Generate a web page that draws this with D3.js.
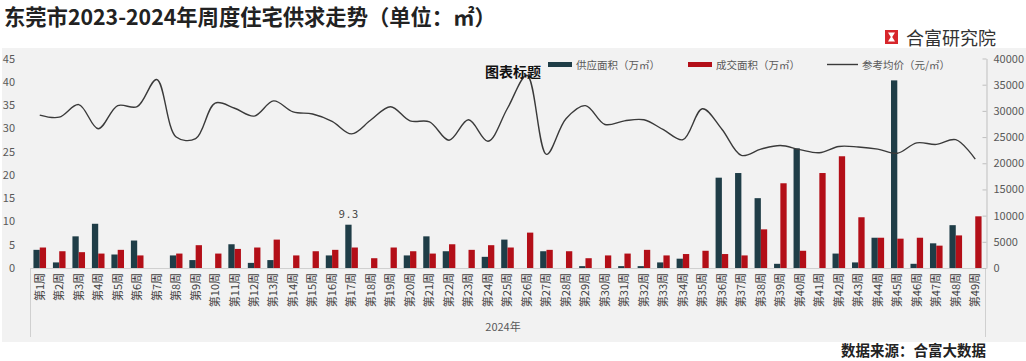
<!DOCTYPE html>
<html><head><meta charset="utf-8">
<script src="https://cdn.jsdelivr.net/npm/d3@7/dist/d3.min.js"></script>
<style>
body{margin:0;background:#fff;}
svg{display:block;}
text{font-family:"Noto Sans CJK SC","Noto Sans",sans-serif;}
</style>
</head><body>
<svg id="c" width="1026" height="361"></svg>
<script>
const categories=["第1周","第2周","第3周","第4周","第5周","第6周","第7周","第8周","第9周","第10周",
"第11周","第12周","第13周","第14周","第15周","第16周","第17周","第18周","第19周","第20周",
"第21周","第22周","第23周","第24周","第25周","第26周","第27周","第28周","第29周","第30周",
"第31周","第32周","第33周","第34周","第35周","第36周","第37周","第38周","第39周","第40周",
"第41周","第42周","第43周","第44周","第45周","第46周","第47周","第48周","第49周"];
const supply=[3.9,1.2,6.8,9.5,2.9,5.9,0,2.7,1.7,0,5.1,1.1,1.7,0,0,2.7,9.3,0,0,2.7,6.8,3.6,0,2.4,6.1,0,3.6,0,0.4,0,0.4,0.4,1.2,2.0,0,19.4,20.4,15.0,0.9,25.7,0,3.1,1.2,6.5,40.3,0.9,5.3,9.2,0];
const deal=[4.4,3.6,3.4,3.1,3.9,2.7,0,3.1,4.9,3.1,4.1,4.4,6.1,2.7,3.6,3.9,4.4,2.1,4.4,3.6,3.1,5.1,3.9,4.9,4.4,7.6,3.9,3.6,2.1,2.7,3.1,3.9,2.7,3.0,3.7,3.0,2.7,8.3,18.2,3.7,20.4,24.0,10.9,6.5,6.3,6.5,4.8,7.0,11.1];
const price=[29200,28800,31200,26600,31000,30800,36000,25000,24700,31500,30500,29000,31900,29800,29400,28000,25600,28300,30800,28100,27900,24400,28300,24200,30500,36800,21700,28500,31000,27400,28100,28300,26400,24500,30400,26500,21500,22700,23400,22600,22000,23200,23100,22700,21900,23900,23600,24500,20800];
const leftTicks=[0,5,10,15,20,25,30,35,40,45];
const rightTicks=[0,5000,10000,15000,20000,25000,30000,35000,40000];
const seriesNames=["供应面积（万㎡）","成交面积（万㎡）","参考均价（元/㎡）"];
const yearLabel="2024年";
const titleText="东莞市2023-2024年周度住宅供求走势（单位：㎡）";
const chartTitle="图表标题";
const sourceText="数据来源：合富大数据";
const brandText="合富研究院";
const dataLabel={index:16,text:"9.3"};

const C_SUP="#1f3d47", C_DEAL="#b30f18", C_LINE="#3a3a3a", C_TXT="#595959";
const svg=d3.select("#c");

// panel
svg.append("rect").attr("x",2).attr("y",48).attr("width",1024).attr("height",294).attr("fill","#f2f2f2");

// title
svg.append("text").attr("x",4).attr("y",24.8).attr("font-size",21.3).attr("font-weight","bold").attr("fill","#222").text(titleText);

// brand
const bx=885, by=30;
svg.append("rect").attr("x",bx).attr("y",by).attr("width",13).attr("height",14).attr("fill","#d7262b");
svg.append("path").attr("d",`M${bx+3},${by+2.5}L${bx+10},${by+2.5}L${bx+7.2},${by+7}L${bx+10},${by+11.5}L${bx+3},${by+11.5}L${bx+5.8},${by+7}Z`).attr("fill","#fff");
svg.append("text").attr("x",906).attr("y",45).attr("font-size",18).attr("fill","#333").text(brandText);

const x=d3.scaleBand().domain(categories).range([30,985]);
const yL=d3.scaleLinear().domain([0,45]).range([268,58.5]);
const yR=d3.scaleLinear().domain([0,40000]).range([268,58.5]);
const bw=6.3;
const cx=c=>x(c)+x.bandwidth()/2;

// category axis line and group dividers
svg.append("line").attr("x1",30).attr("x2",985).attr("y1",268.5).attr("y2",268.5).attr("stroke","#d0d0d0");
[30,985].forEach(v=>svg.append("line").attr("x1",v+0.5).attr("x2",v+0.5).attr("y1",268).attr("y2",337).attr("stroke","#d0d0d0"));

// bars
svg.append("g").selectAll("rect").data(supply).join("rect")
 .attr("x",(d,i)=>cx(categories[i])-bw).attr("y",d=>yL(d))
 .attr("width",bw).attr("height",d=>yL(0)-yL(d)).attr("fill",C_SUP);
svg.append("g").selectAll("rect").data(deal).join("rect")
 .attr("x",(d,i)=>cx(categories[i])).attr("y",d=>yL(d))
 .attr("width",bw).attr("height",d=>yL(0)-yL(d)).attr("fill",C_DEAL);

// data label
svg.append("text").attr("x",cx(categories[dataLabel.index])-bw/2+1).attr("y",yL(supply[dataLabel.index])-7)
 .attr("text-anchor","middle").attr("font-size",11).attr("letter-spacing",2).attr("fill","#404040").text(dataLabel.text);

// price line
const line=d3.line().x((d,i)=>cx(categories[i])).y(d=>yR(d)).curve(d3.curveCatmullRom.alpha(0.5));
svg.append("path").datum(price).attr("d",line).attr("fill","none").attr("stroke",C_LINE).attr("stroke-width",1.4);

// left axis
const gl=svg.append("g").attr("transform","translate(21,0)")
 .call(d3.axisLeft(yL).tickValues(leftTicks).tickSize(0).tickPadding(6));
gl.select(".domain").remove();
gl.selectAll("text").attr("font-size",11).attr("fill",C_TXT).attr("font-family","'Noto Sans',sans-serif");

// right axis
const gr=svg.append("g").attr("transform","translate(986.5,0)")
 .call(d3.axisRight(yR).tickValues(rightTicks).tickFormat(d3.format("d")).tickSizeInner(-4).tickSizeOuter(0).tickPadding(7));
gr.select(".domain").attr("stroke","#bfbfbf");
gr.selectAll(".tick line").attr("stroke","#bfbfbf");
gr.selectAll("text").attr("font-size",11).attr("fill",C_TXT).attr("font-family","'Noto Sans',sans-serif");

// category labels
svg.append("g").selectAll("text").data(categories).join("text")
 .attr("transform",d=>`translate(${cx(d)},273) rotate(-90)`)
 .attr("text-anchor","end").attr("dy","0.35em").attr("font-size",11).attr("fill","#404040").text(d=>d);

svg.append("text").attr("x",503).attr("y",331).attr("text-anchor","middle").attr("font-size",11).attr("fill",C_TXT).text(yearLabel);

// legend
svg.append("text").attr("x",485).attr("y",77).attr("font-size",14).attr("font-weight","bold").attr("fill","#111").text(chartTitle);
const leg=[{x:548,type:"bar",c:C_SUP,t:seriesNames[0]},{x:688,type:"bar",c:C_DEAL,t:seriesNames[1]},{x:827,type:"line",c:C_LINE,t:seriesNames[2]}];
leg.forEach(l=>{
 if(l.type==="bar") svg.append("rect").attr("x",l.x).attr("y",62).attr("width",24).attr("height",5).attr("fill",l.c);
 else svg.append("line").attr("x1",l.x).attr("x2",l.x+31).attr("y1",64.5).attr("y2",64.5).attr("stroke",l.c).attr("stroke-width",1.4);
 svg.append("text").attr("x",l.x+(l.type==="bar"?28:35)).attr("y",68.5).attr("font-size",10.5).attr("fill",C_TXT).text(l.t);
});

// source
svg.append("text").attr("x",986).attr("y",356).attr("text-anchor","end").attr("font-size",14.5).attr("font-weight","bold").attr("fill","#222").text(sourceText);
</script>
</body></html>
